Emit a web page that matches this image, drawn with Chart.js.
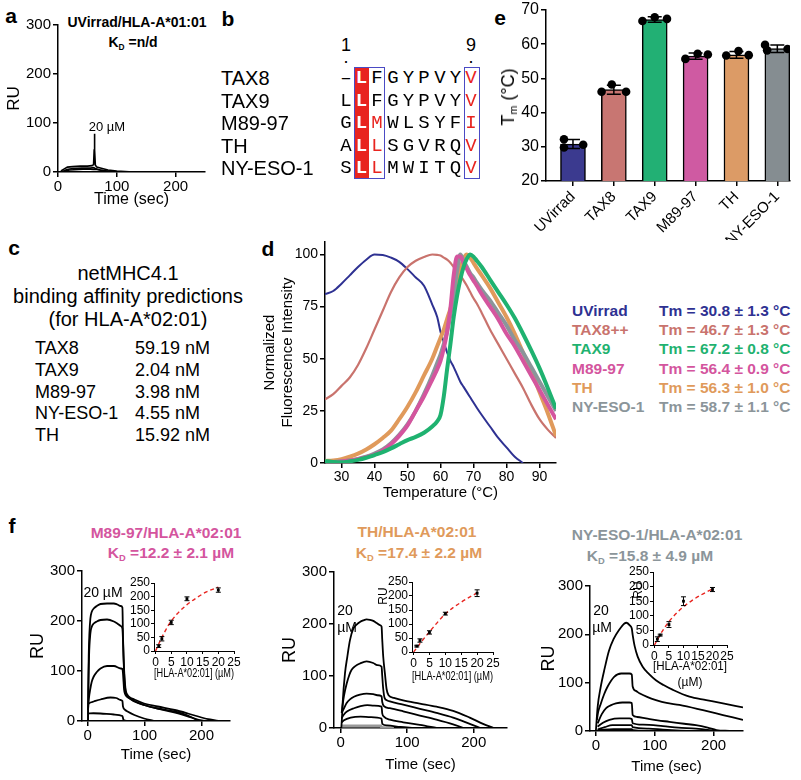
<!DOCTYPE html>
<html>
<head>
<meta charset="utf-8">
<script src="https://cdn.jsdelivr.net/npm/chart.js@4.4.1/dist/chart.umd.min.js"></script>
<style>
  html, body { margin: 0; padding: 0; background: #fff; overflow: hidden; }
  body { width: 801px; height: 780px; position: relative; font-family: "Liberation Sans", Arial, sans-serif; color: #000; }
  .t { position: absolute; white-space: nowrap; line-height: 1; }
  .t sub { font-size: 60%; vertical-align: -0.3em; line-height: 0; }
  .rect { position: absolute; box-sizing: border-box; }
</style>
</head>
<body>
<script>
// ---- data -------------------------------------------------------------

// a: UVirrad / HLA-A*01:01 sensorgram (time sec, RU)
const uvCurve1 = [[5,2],[10,6],[16,10],[25,11],[38,12],[50,12],[58,13],[60.5,15],[61.5,45],[62,78],[62.5,45],[63.5,14],[66,10],[72,8],[85,4],[100,2],[128,0],[250,0]];
const uvCurve2 = [[8,1],[15,5],[25,7],[40,8],[55,8],[61,9],[63,7],[72,4],[90,1],[110,0]];
const uvCurve3 = [[10,2],[20,4],[35,5],[50,6],[60,5],[66,5],[80,2],[100,0]];

// b: peptide alignment
const peptides = ['TAX8', 'TAX9', 'M89-97', 'TH', 'NY-ESO-1'];
const sequences = ['-LFGYPVYV', 'LLFGYPVYV', 'GLMWLSYFI', 'ALLSGVRQV', 'SLLMWITQV'];

// c: netMHC4.1 predictions
const netPeptides = ['TAX8', 'TAX9', 'M89-97', 'NY-ESO-1', 'TH'];
const netAffinity = ['59.19 nM', '2.04 nM', '3.98 nM', '4.55 nM', '15.92 nM'];

// d: thermal melt curves (normalized fluorescence)
const temps = [25,27.5,30,32.5,35,37.5,40,42.5,45,47.5,50,52.5,55,57.5,59,60,61,62,63,64,65,66,67,68,69,70,71,72.5,75,77.5,80,82.5,85,87.5,90,92.5,95];
const meltUVirrad = [81,82.5,86,90,94,97.5,100,99.8,98.5,96.5,93,89,85,76,70,63,58,53,49,46,42.5,39,36.5,34,31.5,29,26.5,23,17.5,12,7.5,3,0,null,null,null,null];
const meltTAX8 = [30.5,33,37,41,47,55,64,73,82,89,94,97,98.8,100,99.8,99.5,98.5,97.5,96,94,92,90,87.6,85,82,79,76.5,72,64,57,50,43,36,28,21,16,12];
const meltTAX9 = [1,0.5,0.3,0.8,1.5,2.5,3.8,5.2,7,9,11,12.5,14.5,17.5,20,23,32,45,57,70,80,88,94,98,100,99,97,94,88,82,76,69.5,62,54,45.5,36,26];
const meltM89 = [0,0.3,0.7,1.2,1.8,2.8,4,6,9,13,18,25,32,40,45,49,55,63,74,90,99,99,96,93,90,87.5,85,81,75,69,62,56,49,42,35,28,21];
const meltTH = [1,1.2,1.8,3,4.5,6.5,9,12,15.5,21,27,34,42,50,56,60,64,69,74,80,87,93,98,100,98.5,96,93.5,90,84,77,70,62,53,44,34,24,13];
const meltNYESO = [0.5,0.5,0.8,1.2,2,3,4.5,6.5,9.5,13.5,18.5,25,33,42,48,52,57,63,71,81,92,100,97,94,91,89,86.5,83,78,72,66,59,53,46,39,32,25];
const meltLegend = ['UVirrad', 'TAX8++', 'TAX9', 'M89-97', 'TH', 'NY-ESO-1'];
const meltTm = ['Tm = 30.8 ± 1.3 °C', 'Tm = 46.7 ± 1.3 °C', 'Tm = 67.2 ± 0.8 °C', 'Tm = 56.4 ± 0.9 °C', 'Tm = 56.3 ± 1.0 °C', 'Tm = 58.7 ± 1.1 °C'];

// e: Tm bar chart
const tmCats = ['UVirrad', 'TAX8', 'TAX9', 'M89-97', 'TH', 'NY-ESO-1'];
const tmMeans = [30.8, 46.7, 67.2, 56.5, 56.9, 58.7];
const tmSD = [1.3, 1.3, 0.8, 0.9, 1.0, 1.1];
const tmReps = [[32.2, 29.8, 30.6], [46.1, 48.2, 46.1], [66.8, 67.9, 67.4], [55.7, 57.2, 57.0], [56.7, 58.0, 56.8], [59.8, 58.2, 58.6]];

// f: sensorgrams (time sec, RU)
const m89Curves = [
  [[0.6,0],[1,60],[1.8,130],[3,175],[4.7,205],[7,218],[10.6,225],[16,230],[22.5,234],[34,235],[46,235],[52,233],[58,230],[61,227],[62,169],[63,130],[64,102],[65.5,75],[67,60],[70,52],[73,48],[82,43],[99,35],[123,29],[153,22],[176,15],[200,7],[215,3],[232,0]],
  [[0.6,0],[1,50],[2.4,130],[4.7,175],[7,188],[10.6,195],[16,199],[22.5,202],[34,203],[46,199],[52,195],[58,190],[61,185],[62,162],[63,125],[64,95],[65.5,70],[67,55],[72,47],[82,40],[99,32],[123,25],[153,19],[176,11],[190,3],[196,0]],
  [[0.6,22],[1.8,42],[4.7,65],[7,78],[10.6,89],[16,98],[22.5,105],[34,110],[46,110],[58,105],[61,104],[62,95],[63,78],[64,62],[66,53],[69,49],[75,44],[82,39],[99,32],[129,23],[159,15],[182,7],[200,1],[210,0]],
  [[0.6,34],[5,37],[10.6,39],[22.5,43],[40,47],[50,46],[58,42],[61,40],[62,29],[66,22],[70,19],[82,12],[99,5],[117,0]],
  [[0.6,15],[10,15.5],[22.5,15],[46,13],[61,10],[63,2],[70,0]]
];
const thCurves = [
  [[1,0],[2,20],[3,48],[6.5,105],[10,137],[14,169],[19,191],[24,199],[29,204],[34,207],[39,209],[44,208],[49,206],[54,202],[59,198],[61.5,195],[62.5,170],[64,137],[66.5,105],[69,75],[72,63],[80,58],[94,53],[119,47],[144,41],[169,33],[194,20],[214,8],[230,0]],
  [[1.5,29],[3,45],[5,62],[9,85],[13,102],[16.5,112],[22,119],[29,124],[39,128],[49,125],[55,121],[61.5,118],[62.5,100],[64,75],[66,58],[70,53],[74,51],[94,45],[119,37],[144,29],[169,20],[194,8],[210,0]],
  [[1.5,29],[5,38],[9,48],[14,55],[20,60],[29,64],[39,66],[49,65],[55,63],[61.5,61],[62.5,50],[65,42],[74,38],[94,32],[119,24],[144,16],[169,7],[185,0]],
  [[1.5,19],[5,26],[10,32],[20,38],[30,42],[40,44],[50,43],[61.5,41],[62.5,28],[65,22],[74,16],[94,11],[119,6],[144,0]],
  [[1.5,11],[5,15],[15,20],[30,22],[45,21],[61.5,18],[62.5,8],[70,5],[90,2],[110,0]]
];
const thBaseline = [[1.5,4],[60,4],[62,1],[80,0]];
const nyCurves = [
  [[0,0],[3,50],[8,90],[15,130],[22,165],[30,190],[40,210],[48,222],[52,224],[58,218],[61,212],[62.5,199],[66,175],[71,154],[79.5,133],[90,118],[102,105],[115,95],[131,85],[159,71],[187.5,64],[216,57],[250,49]],
  [[1.7,23],[4,40],[8.5,57],[14,76],[20,92],[31,112],[43,119],[57,119],[61,117],[62.5,92],[68,83],[74,78],[88,70],[102,64],[120,58],[142,54],[182,43],[216,33],[250,23]],
  [[3,16],[10,35],[17,47],[25,53],[34,57],[45,59],[57,59],[61,58],[62.5,33],[70,29],[85,26],[105,22],[125,19],[150,15],[170,12],[190,7],[205,2],[227,0]],
  [[3,9],[12,17],[23,23],[40,26],[57,26],[61,25],[62.5,16],[80,13],[114,10],[140,7],[170,5],[205,0]],
  [[3,3],[15,8],[28,12],[45,12],[61,12],[62.5,8],[90,5],[114,3],[159,0]],
  [[3,2],[30,4],[61,4],[63,2],[120,0]]
];

// f insets: steady-state binding
const conc = [1, 2, 5, 10, 20];
const m89Ru = [18, 45, 105, 192, 224];
const m89Err = [5, 8, 8, 7, 8];
const m89Fit = [[0,0],[1,26],[2,50],[3,72],[4,93],[5,110],[7,138],[10,170],[13,195],[16,216],[20,235]];
const thRu = [21, 41, 70, 137, 210];
const thErr = [3, 6, 6, 5, 12];
const thFit = [[0,0],[1,15],[2,30],[5,72],[10,136],[15,178],[20,211]];
const nyRu = [20, 34, 70, 150, 190];
const nyErr = [8, 3, 10, 15, 7];
const nyFit = [[0,0],[1,18],[2,36],[5,80],[8,113],[10,131],[13,153],[16,171],[20,192]];

// ---- helpers ----------------------------------------------------------

Chart.defaults.font.family = "'Liberation Sans', Arial, sans-serif";
Chart.defaults.color = '#000';

const C = {
  blue: '#2e3192', salmon: '#c9736d', green: '#1fb270', magenta: '#d4559e',
  orange: '#e09a5b', grey: '#8b959a', red: '#e8241f'
};

function txt(html, x, y, css, anchor) {
  const d = document.createElement('div');
  d.className = 't';
  d.innerHTML = html;
  d.style.left = x + 'px';
  d.style.top = y + 'px';
  Object.assign(d.style, css || {});
  if (anchor === 'l') d.style.transform = 'translate(0,-50%)';
  else if (anchor === 'r90') d.style.transform = 'translate(-50%,-50%) rotate(-90deg)';
  else d.style.transform = 'translate(-50%,-50%)';
  document.body.appendChild(d);
  return d;
}

function rect(x, y, w, h, css) {
  const d = document.createElement('div');
  d.className = 'rect';
  Object.assign(d.style, { left: x + 'px', top: y + 'px', width: w + 'px', height: h + 'px' }, css);
  document.body.appendChild(d);
}

function canvasFor(box) {
  const c = document.createElement('canvas');
  c.width = box.w;
  c.height = box.h;
  c.style.cssText = `position:absolute;left:${box.x}px;top:${box.y}px;width:${box.w}px;height:${box.h}px`;
  document.body.appendChild(c);
  return c;
}

function scale(o) {
  return {
    type: 'linear',
    position: o.horizontal ? 'bottom' : 'left',
    offset: false,
    min: o.min,
    max: o.max,
    afterBuildTicks: s => { s.ticks = o.ticks.map(v => ({ value: v })); },
    afterFit: s => {
      if (o.horizontal) s.height = o.size; else s.width = o.size;
      s.paddingLeft = s.paddingRight = s.paddingTop = s.paddingBottom = 0;
    },
    border: { display: true, color: '#000', width: o.lw },
    grid: { display: true, offset: false, drawOnChartArea: false, drawTicks: true, tickLength: o.tl, lineWidth: o.lw, color: '#000' },
    ticks: {
      autoSkip: false, padding: o.pad, color: '#000', font: { size: o.fs },
      maxRotation: o.rot || 0, minRotation: o.rot || 0,
      callback: o.cb || (v => String(v))
    },
    title: o.title
      ? { display: true, text: o.title, padding: 4, color: '#000', font: { size: o.tfs, lineHeight: o.tlh || 1.2 } }
      : { display: false }
  };
}

function options(box, x, y) {
  return {
    responsive: false,
    animation: false,
    layout: { padding: { top: box.pt, right: box.pr, left: 0, bottom: 0 } },
    plugins: { legend: { display: false }, tooltip: { enabled: false } },
    scales: { x, y }
  };
}

const pts = arr => arr.map(([x, y]) => ({ x, y }));

// error bars for any dataset carrying an `err` array
const errorBars = {
  id: 'errorBars',
  afterDatasetDraw(chart, args) {
    const ds = chart.data.datasets[args.index];
    if (!ds.err) return;
    const ctx = chart.ctx, xs = chart.scales.x, ys = chart.scales.y;
    ctx.save();
    ctx.strokeStyle = '#000';
    ctx.lineWidth = ds.errWidth || 1;
    ds.data.forEach((p, j) => {
      const x = xs.getPixelForValue(p.x);
      const lo = ys.getPixelForValue(p.y - ds.err[j]);
      const hi = ys.getPixelForValue(p.y + ds.err[j]);
      const c = ds.capHalf || 2.5;
      ctx.beginPath();
      ctx.moveTo(x, lo); ctx.lineTo(x, hi);
      ctx.moveTo(x - c, lo); ctx.lineTo(x + c, lo);
      ctx.moveTo(x - c, hi); ctx.lineTo(x + c, hi);
      ctx.stroke();
    });
    ctx.restore();
  }
};

function spr(box, curves, extra) {
  const ds = curves.map(c => ({ data: pts(c), borderColor: '#000', borderWidth: 1.8, pointRadius: 0, tension: 0.3, cubicInterpolationMode: 'monotone' }));
  (extra || []).forEach(e => ds.push(e));
  return new Chart(canvasFor(box), {
    type: 'line',
    data: { datasets: ds },
    options: options(box,
      scale({ horizontal: true, min: -10, max: 250, ticks: [0, 100, 200], size: box.xH, lw: 1.5, tl: 5, pad: 1, fs: 15, title: 'Time (sec)', tfs: 15 }),
      scale({ min: 0, max: 300, ticks: [0, 100, 200, 300], size: box.yW, lw: 1.5, tl: 5, pad: 2, fs: 15, title: 'RU', tfs: 18 }))
  });
}

function inset(box, ru, err, fit, xTitle) {
  return new Chart(canvasFor(box), {
    type: 'line',
    data: {
      datasets: [
        { type: 'scatter', data: conc.map((c, i) => ({ x: c, y: ru[i] })), err: err, pointStyle: 'rect', pointRadius: 2, backgroundColor: '#000', borderWidth: 0 },
        { data: pts(fit), borderColor: C.red, borderWidth: 1.4, borderDash: [4, 3], pointRadius: 0, tension: 0.4, cubicInterpolationMode: 'monotone' }
      ]
    },
    options: options(box,
      scale({ horizontal: true, min: -0.5, max: 25, ticks: [0, 5, 10, 15, 20, 25], size: box.xH, lw: 1, tl: 3, pad: 1, fs: 12, title: xTitle, tfs: 12, tlh: box.tlh }),
      scale({ min: 0, max: 250, ticks: [0, 50, 100, 150, 200, 250], size: box.yW, lw: 1, tl: 3, pad: 1, fs: 12 })),
    plugins: [errorBars]
  });
}

// ---- panel letters ----------------------------------------------------
const letter = { fontWeight: 'bold', fontSize: '21px' };
txt('a', 11, 15, letter);
txt('b', 228, 18, letter);
txt('c', 14, 247, letter);
txt('d', 268, 248, letter);
txt('e', 500, 17, letter);
txt('f', 12, 525, letter);

// ---- a ----------------------------------------------------------------
txt('UVirrad/HLA-A*01:01', 137, 22, { fontWeight: 'bold', fontSize: '14px' });
txt('K<sub>D</sub> =n/d', 133, 42, { fontWeight: 'bold', fontSize: '14px' });
const boxA = { x: 0, y: 15, w: 217, h: 198, yW: 58, xH: 41, pt: 10, pr: 12 };
new Chart(canvasFor(boxA), {
  type: 'line',
  data: { datasets: [uvCurve1, uvCurve2, uvCurve3].map(c => ({ data: pts(c), borderColor: '#000', borderWidth: 1.6, pointRadius: 0 })) },
  options: options(boxA,
    scale({ horizontal: true, min: 0, max: 250, ticks: [0, 100, 200], size: boxA.xH, lw: 1.5, tl: 5, pad: 1, fs: 15, title: 'Time (sec)', tfs: 16 }),
    scale({ min: 0, max: 300, ticks: [0, 100, 200, 300], size: boxA.yW, lw: 1.5, tl: 5, pad: 2, fs: 15, title: 'RU', tfs: 17 }))
});
txt('20 µM', 107, 126, { fontSize: '13px' });

// ---- b ----------------------------------------------------------------
const rowY = [78, 100.5, 123, 145.5, 168];
const colX = [346, 361.5, 377, 393, 408.5, 424, 440, 455.5, 471];
rect(353.5, 67, 15.5, 112, { background: C.red });
rect(353.5, 67, 31, 112, { border: '1px solid #4a4ac4' });
rect(463.5, 67, 16, 112, { border: '1px solid #4a4ac4' });
txt('1', 346, 45, { fontSize: '18px' });
txt('.', 346, 57, { fontSize: '18px' });
txt('9', 471, 45, { fontSize: '18px' });
txt('.', 471, 57, { fontSize: '18px' });
peptides.forEach((p, r) => {
  txt(p, 221, rowY[r], { fontSize: '20px' }, 'l');
  sequences[r].split('').forEach((ch, c) => {
    const css = { fontFamily: "'Liberation Mono', monospace", fontSize: '19px' };
    if (c === 1) { css.color = '#fff'; css.fontWeight = 'bold'; }
    else if (c === 8 || (c === 2 && r >= 2)) css.color = C.red;
    txt(ch === '-' ? '–' : ch, colX[c], rowY[r], css);
  });
});

// ---- c ----------------------------------------------------------------
txt('netMHC4.1', 128, 273, { fontSize: '20px' });
txt('binding affinity predictions', 128, 296, { fontSize: '20px' });
txt('(for HLA-A*02:01)', 128, 319, { fontSize: '20px' });
netPeptides.forEach((p, i) => {
  txt(p, 35, 348 + i * 21.8, { fontSize: '18px' }, 'l');
  txt(netAffinity[i], 135, 348 + i * 21.8, { fontSize: '18px' }, 'l');
});

// ---- d ----------------------------------------------------------------
const boxD = { x: 257, y: 232, w: 311, h: 274, yW: 68, xH: 43, pt: 10, pr: 12 };
const meltSeries = [
  { y: meltTAX9, color: C.green, w: 4 },
  { y: meltM89, color: C.magenta, w: 4 },
  { y: meltNYESO, color: C.grey, w: 4 },
  { y: meltTH, color: C.orange, w: 4 },
  { y: meltTAX8, color: C.salmon, w: 2.2 },
  { y: meltUVirrad, color: C.blue, w: 2 }
];
new Chart(canvasFor(boxD), {
  type: 'line',
  data: {
    datasets: meltSeries.map(s => ({
      data: temps.map((t, i) => ({ x: t, y: s.y[i] })),
      borderColor: s.color, borderWidth: s.w, pointRadius: 0,
      tension: 0.4, cubicInterpolationMode: 'monotone', spanGaps: false
    }))
  },
  options: options(boxD,
    scale({ horizontal: true, min: 25, max: 95, ticks: [30, 40, 50, 60, 70, 80, 90], size: boxD.xH, lw: 1.5, tl: 5, pad: 1, fs: 14, title: 'Temperature (°C)', tfs: 15 }),
    scale({ min: 0, max: 106, ticks: [0, 25, 50, 75, 100], size: boxD.yW, lw: 1.5, tl: 5, pad: 2, fs: 14, title: ['Normalized', 'Fluorescence Intensity'], tfs: 15 }))
});
const legendColors = [C.blue, C.salmon, C.green, C.magenta, C.orange, C.grey];
meltLegend.forEach((name, i) => {
  const css = { fontWeight: 'bold', fontSize: '15.5px', color: legendColors[i] };
  txt(name, 572, 311 + i * 19.2, css, 'l');
  txt(meltTm[i], 659, 311 + i * 19.2, css, 'l');
});

// ---- e ----------------------------------------------------------------
const boxE = { x: 515, y: 0, w: 280, h: 240, yW: 31, xH: 59, pt: 10, pr: 5 };
const jitter = [[-0.22, -0.22, 0.25], [-0.3, -0.05, 0.3], [-0.3, 0, 0.3], [-0.25, 0.05, 0.3], [-0.25, 0.05, 0.3], [-0.3, -0.25, 0.25]];
const barColors = ['#3b3a8f', '#c87672', '#22b074', '#cf5aa2', '#dc9b66', '#858d91'];
const dots = [];
tmReps.forEach((reps, i) => reps.forEach((v, k) => dots.push({ x: i + jitter[i][k], y: v })));
new Chart(canvasFor(boxE), {
  type: 'bar',
  data: {
    datasets: [
      { type: 'scatter', order: 1, data: dots, pointRadius: 4.3, backgroundColor: '#000', borderWidth: 0 },
      {
        type: 'bar', order: 2, data: tmMeans.map((v, i) => ({ x: i, y: v })), err: tmSD, errWidth: 1.5, capHalf: 7,
        backgroundColor: barColors, borderColor: '#000', borderWidth: 1.5, barThickness: 25, borderSkipped: false
      }
    ]
  },
  options: options(boxE,
    scale({ horizontal: true, min: -0.66, max: 5.31, ticks: [0, 1, 2, 3, 4, 5], size: boxE.xH, lw: 1.5, tl: 5, pad: 2, fs: 15, rot: 45, cb: v => tmCats[v] }),
    scale({ min: 20, max: 70, ticks: [20, 30, 40, 50, 60, 70], size: boxE.yW, lw: 1.5, tl: 5, pad: 2, fs: 16 })),
  plugins: [errorBars]
});
txt('T<sub>m</sub> (°C)', 508, 97, { fontSize: '18px' }, 'r90');

// ---- f ----------------------------------------------------------------
const fTitle = { fontWeight: 'bold', fontSize: '15.5px' };
txt('M89-97/HLA-A*02:01', 166, 533, Object.assign({ color: C.magenta }, fTitle));
txt('K<sub>D</sub> =12.2 ± 2.1 µM', 171, 553, Object.assign({ color: C.magenta }, fTitle));
txt('TH/HLA-A*02:01', 417, 532, Object.assign({ color: C.orange }, fTitle));
txt('K<sub>D</sub> =17.4 ± 2.2 µM', 419, 553, Object.assign({ color: C.orange }, fTitle));
txt('NY-ESO-1/HLA-A*02:01', 657, 535, Object.assign({ color: C.grey }, fTitle));
txt('K<sub>D</sub> =15.8 ± 4.9 µM', 650, 556, Object.assign({ color: C.grey }, fTitle));

spr({ x: 23, y: 561, w: 219, h: 207, yW: 59, xH: 47, pt: 10, pr: 12 }, m89Curves);
spr({ x: 275, y: 562, w: 244, h: 216, yW: 59, xH: 50, pt: 10, pr: 12 }, thCurves,
  [{ data: pts(thBaseline), borderColor: '#999', borderWidth: 3, pointRadius: 0 }]);
spr({ x: 534, y: 576, w: 221, h: 204, yW: 56, xH: 49, pt: 10, pr: 12 }, nyCurves);

inset({ x: 126, y: 575, w: 118, h: 110, yW: 28, xH: 34, pt: 8, pr: 10 }, m89Ru, m89Err, m89Fit, '[HLA-A*02:01] (µM)');
inset({ x: 384, y: 574, w: 119, h: 114, yW: 28, xH: 36, pt: 8, pr: 10 }, thRu, thErr, thFit, '[HLA-A*02:01] (µM)');
inset({ x: 625, y: 564, w: 112, h: 131, yW: 28, xH: 50, pt: 8, pr: 10, tlh: 1.35 }, nyRu, nyErr, nyFit, ['[HLA-A*02:01]', '(µM)']);
txt('RU', 383, 596, { fontSize: '12px' }, 'r90');
txt('RU', 638, 590, { fontSize: '12px' }, 'r90');

txt('20 µM', 103, 592, { fontSize: '14px' });
txt('20', 345, 610, { fontSize: '14px' });
txt('µM', 347, 627, { fontSize: '14px' });
txt('20', 601, 610, { fontSize: '14px' });
txt('µM', 602, 627, { fontSize: '14px' });
</script>
</body>
</html>
